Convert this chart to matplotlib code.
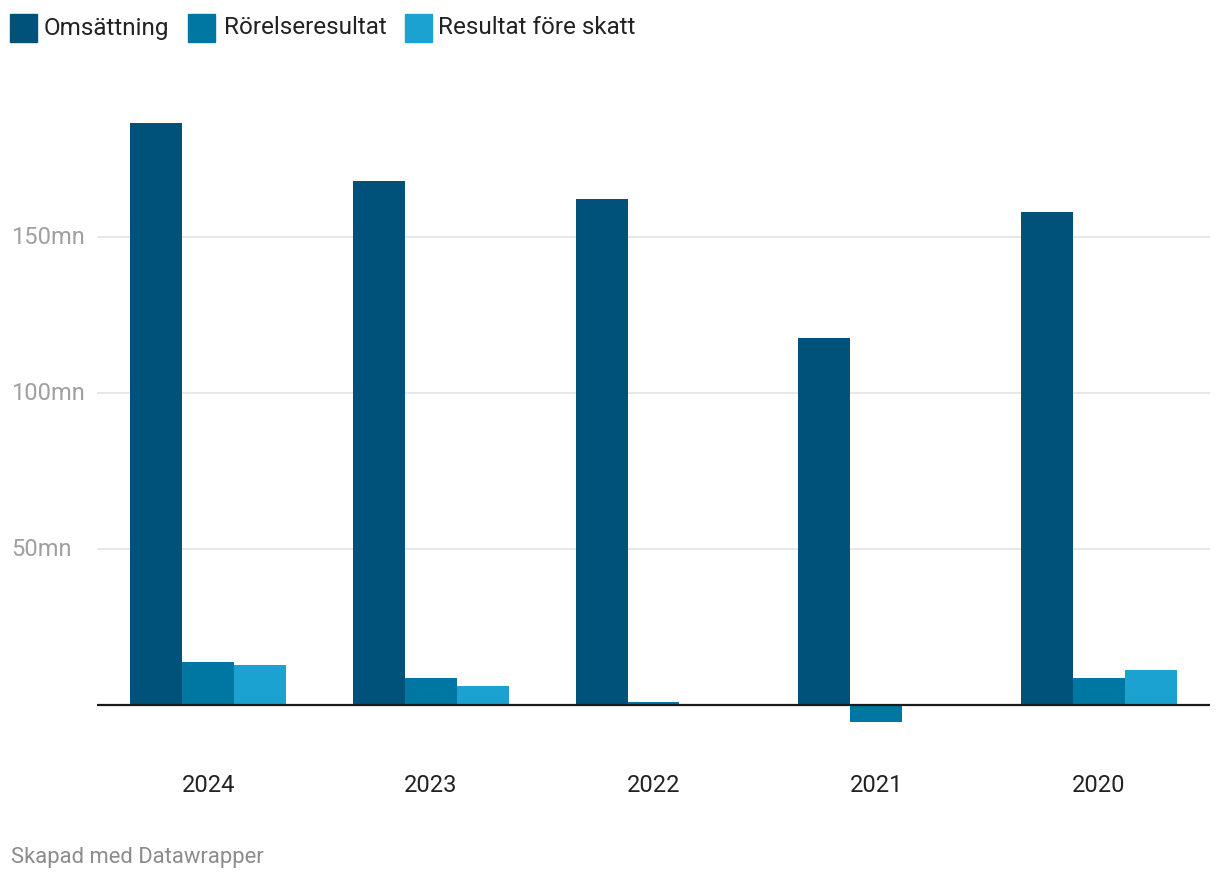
import numpy as np
import matplotlib
matplotlib.use("Agg")
import matplotlib.pyplot as plt
from matplotlib.patches import Rectangle

plt.rcParams['font.family'] = ['Roboto', 'DejaVu Sans']

# ================= data =================
years = ['2024', '2023', '2022', '2021', '2020']
series_names = ['Omsättning', 'Rörelseresultat', 'Resultat före skatt']
omsattning = [186.5, 168.0, 162.2, 117.6, 158.0]
rorelseresultat = [13.8, 8.7, 1.0, -5.5, 8.7]
resultat_fore_skatt = [12.8, 6.1, 0.0, 0.0, 11.2]
y_ticks = [50, 100, 150]
y_tick_labels = ['50mn', '100mn', '150mn']

colors = ['#00527a', '#0077a3', '#1ba2d0']

W, H = 1220, 882
fig = plt.figure(figsize=(W / 100, H / 100), dpi=100)

# axes placed in pixel terms
ax_l, ax_r, ax_t, ax_b = 97, 1210, 100, 730
ax = fig.add_axes([ax_l / W, 1 - ax_b / H, (ax_r - ax_l) / W, (ax_b - ax_t) / H])

x = np.arange(len(years))
bw = 0.2335
for i, vals in enumerate([omsattning, rorelseresultat, resultat_fore_skatt]):
    ax.bar(x + (i - 1) * bw, vals, width=bw, color=colors[i], zorder=3, linewidth=0)

ax.set_xlim(-0.5, len(years) - 0.5)
y0_px = 705
px_per = 3.12
ax.set_ylim(-(ax_b - y0_px) / px_per, (y0_px - ax_t) / px_per)

for t in y_ticks:
    ax.axhline(t, color='#e3e3e3', lw=1.2, zorder=1)
ax.axhline(0, color='#1a1a1a', lw=1.6, zorder=4)

for s in ax.spines.values():
    s.set_visible(False)
ax.set_yticks([])
ax.set_xticks([])

for yt, lab in zip(y_ticks, y_tick_labels):
    fig.text(11 / W, 1 - (y0_px + 1 - yt * px_per) / H, lab, fontsize=17,
             color='#a0a0a0', ha='left', va='center')

for xi, yr in zip(x, years):
    xp = ax_l + (xi + 0.5) * (ax_r - ax_l) / len(years)
    fig.text(xp / W, 1 - 786 / H, yr, fontsize=17, color='#222222',
             ha='center', va='center')

# legend
leg_sq = [10, 188, 405]
leg_tx = [44, 224, 438]
for sx, tx, name, c in zip(leg_sq, leg_tx, series_names, colors):
    fig.patches.append(Rectangle((sx / W, 1 - 42 / H), 27 / W, 28 / H,
                                 transform=fig.transFigure, color=c, figure=fig))
    fig.text(tx / W, 1 - 28 / H, name, fontsize=17.5, color='#222222',
             ha='left', va='center')

fig.text(11 / W, 1 - 858 / H, 'Skapad med Datawrapper', fontsize=15.8,
         color='#8c8c8c', ha='left', va='center')

fig.savefig('out.png', dpi=100)
